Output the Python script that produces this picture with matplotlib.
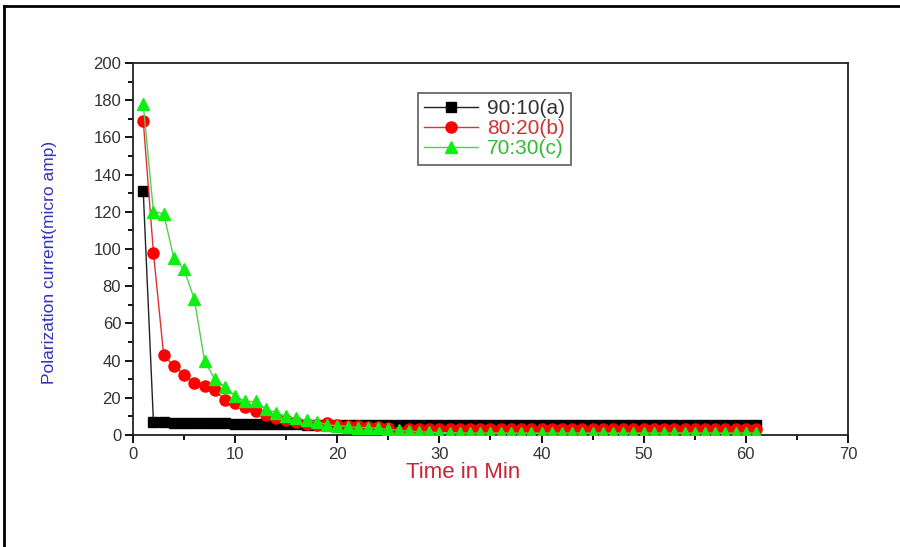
import matplotlib
matplotlib.use("Agg")
import matplotlib.pyplot as plt
from matplotlib.lines import Line2D
from matplotlib.ticker import MultipleLocator

plt.rcParams['font.family'] = ['Liberation Sans', 'DejaVu Sans']

time_a = list(range(1, 62))
current_a = [131, 7.0, 6.8, 6.7, 6.6, 6.5, 6.4, 6.3, 6.2, 6.1, 6.0, 6.0, 5.9, 5.8, 5.8, 5.7,
             5.6, 5.6, 5.5, 5.5, 5.5, 5.5, 5.5, 5.5, 5.5, 5.5, 5.5, 5.5, 5.5, 5.5, 5.5,
             5.5, 5.5, 5.5, 5.5, 5.5, 5.5, 5.5, 5.5, 5.5, 5.5, 5.5, 5.5, 5.5, 5.5, 5.5,
             5.5, 5.5, 5.5, 5.5, 5.5, 5.5, 5.5, 5.5, 5.5, 5.5, 5.5, 5.5, 5.5, 5.5, 5.5]

time_b = list(range(1, 62))
current_b = [169, 98, 43, 37, 32.5, 28, 26.5, 24, 19, 17, 15, 13, 11, 9, 8, 7, 6, 5.5,
             6.5, 5.5, 5, 5, 4.5, 4.5, 4, 1.5, 3.2, 3.2, 3.2, 3.2, 3.2, 3.2, 3.2, 3.2,
             3.2, 3.2, 3.2, 3.2, 3.2, 3.2, 3.2, 3.2, 3.2, 3.2, 3.2, 3.2, 3.2, 3.2, 3.2,
             3.2, 3.2, 3.2, 3.2, 3.2, 3.2, 3.2, 3.2, 3.2, 3.2, 3.2, 3.2]

time_c = list(range(1, 62))
current_c = [178, 120, 119, 95, 89, 73, 40, 30, 26, 21, 18, 18, 14, 12, 10, 9, 8, 7, 5.5,
             5, 4.5, 4, 4, 3.5, 3, 2.5, 2, 1.8, 1.5, 1.3, 1.2, 1.1, 1.0, 1.0, 1.0, 1.0,
             1.0, 1.0, 1.0, 1.0, 1.0, 1.0, 1.0, 1.0, 1.0, 1.0, 1.0, 1.0, 1.0, 1.0, 1.0,
             1.0, 1.0, 1.0, 1.0, 1.0, 1.0, 1.0, 1.0, 1.0, 1.0]

labels = ['90:10(a)', '80:20(b)', '70:30(c)']

fig = plt.figure(figsize=(9, 5.47), dpi=100)
ax = fig.add_axes([0.1478, 0.2048, 0.7944, 0.68])

ax.plot(time_a, current_a, color='#222222', lw=1.0, marker='s', ms=7.5,
        mfc='black', mec='black', label=labels[0], zorder=3)
ax.plot(time_b, current_b, color='#e03030', lw=1.0, marker='o', ms=8,
        mfc='#ff0000', mec='#ff0000', label=labels[1], zorder=4)
ax.plot(time_c, current_c, color='#55cc55', lw=1.0, marker='^', ms=8.5,
        mfc='#11ee11', mec='#11ee11', label=labels[2], zorder=5)

ax.set_xlim(0, 70)
ax.set_ylim(0, 200)
ax.xaxis.set_major_locator(MultipleLocator(10))
ax.xaxis.set_minor_locator(MultipleLocator(5))
ax.yaxis.set_major_locator(MultipleLocator(20))
ax.yaxis.set_minor_locator(MultipleLocator(10))
ax.tick_params(which='both', direction='out', top=False, right=False,
               labelsize=12, labelcolor='#333333', width=1.3)
ax.tick_params(which='major', length=6, pad=2.5)
ax.tick_params(which='minor', length=3.5)
for s in ax.spines.values():
    s.set_linewidth(1.3)
    s.set_color('#222222')

ax.set_xlabel('Time in Min', color='#cc2233', fontsize=16)
ax.xaxis.set_label_coords(0.4615, -0.074)
ax.set_ylabel('Polarization current(micro amp)', color='#3333bb', fontsize=12.5)
ax.yaxis.set_label_coords(-0.106, 0.465)

leg = ax.legend(loc='upper left', bbox_to_anchor=(0.3986, 0.919), borderaxespad=0,
                fontsize=15, frameon=True, fancybox=False, edgecolor='#444444',
                handlelength=2.6, handletextpad=0.4, borderpad=0.3,
                labelspacing=0.05)
leg.get_frame().set_linewidth(1.3)
for txt, c in zip(leg.get_texts(), ['#333333', '#cc3333', '#33bb33']):
    txt.set_color(c)

fig.add_artist(Line2D([0.0045, 0.0045], [0.0, 0.989], transform=fig.transFigure,
                      color='black', lw=2))
fig.add_artist(Line2D([0.0045, 1.0], [0.989, 0.989], transform=fig.transFigure,
                      color='black', lw=2))

fig.savefig('out.png', dpi=100)
